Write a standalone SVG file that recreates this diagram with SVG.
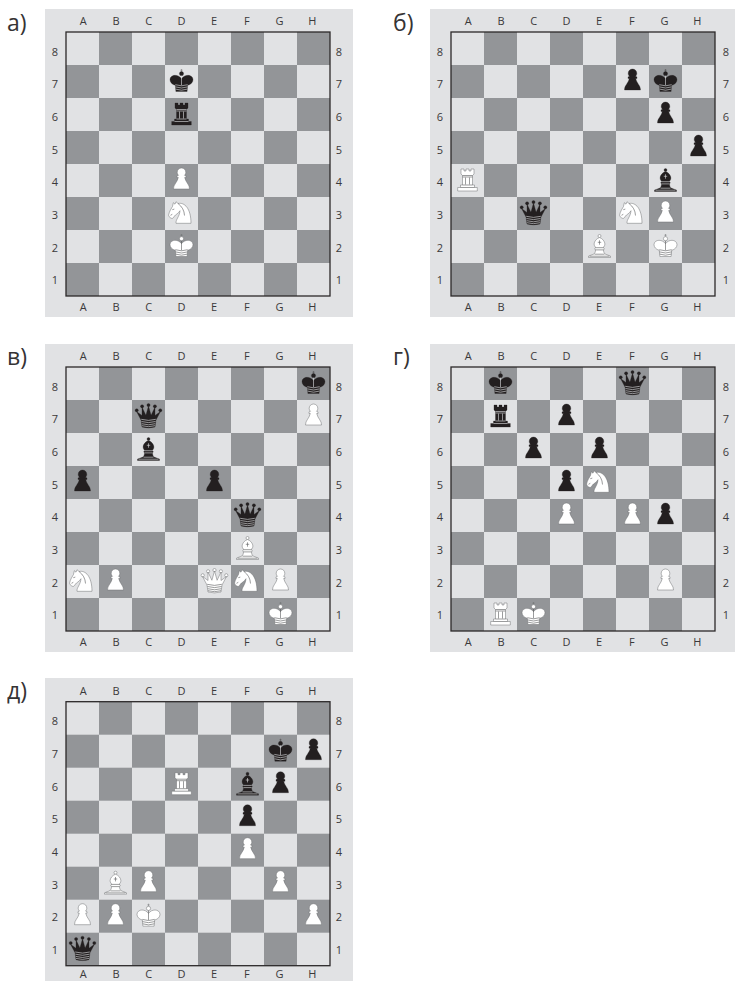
<svg xmlns="http://www.w3.org/2000/svg" width="735" height="981" viewBox="0 0 735 981">
<style>
.bg{fill:#e1e2e4}
.frame{fill:none;stroke:#2b2829;stroke-width:1.3}
.l{font-family:"Open Sans","Noto Sans",sans-serif;font-size:11px;fill:#3a3839;text-anchor:middle;opacity:.99}
.t{font-family:"Open Sans","Noto Sans",sans-serif;font-size:23px;fill:#333132;opacity:.99}
.ln{fill:none;stroke:currentColor;stroke-width:.6}
.w{fill:#fff;stroke:#6d6e71;stroke-width:.5;color:#58595b}
.b{fill:#231f20;stroke:#231f20;stroke-width:.3;color:#e1e2e4}
</style>
<defs>
<pattern id="chk" width="66" height="66" patternUnits="userSpaceOnUse"><rect x="33" width="33" height="33" fill="#939598"/><rect y="33" width="33" height="33" fill="#939598"/></pattern>
<g id="P"><path d="M-8,8.5C-8.2,4-4.5,2.5-3.2,-3L-4.5,-3L-4.5,-4.6L-3,-5.2C-4,-6-4.3,-7.2-4.3,-8.2C-4.3,-10.6-2.4,-12.5,0,-12.5C2.4,-12.5,4.3,-10.6,4.3,-8.2C4.3,-7.2,4,-6,3,-5.2L4.5,-4.6L4.5,-3L3.2,-3C4.5,2.5,8.2,4,8,8.5Z"/></g>
<g id="R"><path d="M-6.5,-11.5L-3.5,-11.5L-3.5,-9.5L-1.5,-9.5L-1.5,-11.5L1.5,-11.5L1.5,-9.5L3.5,-9.5L3.5,-11.5L6.5,-11.5L6.5,-6.5L5,-5L5,4.5L7,4.5L7,7L9.8,7L9.8,10.5L-9.8,10.5L-9.8,7L-7,7L-7,4.5L-5,4.5L-5,-5L-6.5,-6.5Z"/><path class="ln" d="M-5,-5H5M-5,-3.5H5M-5,4.5H5M-7,7H7M-2,-3V4M2,-3V4"/></g>
<g id="N"><path d="M-8.2,-10.8L-6.5,-9.3L-5.5,-11.8L-3.5,-10C3,-11.5,9.5,-5,9.5,9.8L-5.5,9.8C-6,6-2,3.5-1.5,-2.8C-3.5,0.5-6,1-7,2.5C-8,4.5-9,5.2-10,4.8C-12,4-13.2,2.5-12.8,1.2C-12.4,-2-9.5,-6-9,-7Z"/><path class="ln" d="M-9.2,-3.8L-7.2,-4.4M-3.5,-10C0.5,-7,2.8,-3,3,2M-11,1.8L-9.2,0.8"/></g>
<g id="K"><path d="M0,-12.5V-9.5M-1.2,-11.3H1.2" fill="none"/><circle cx="0" cy="-7.8" r="2.1"/><path d="M-5.6,10L-6.2,3.8C-9.5,3-11.5,0.6-11.5,-1.8C-11.5,-4.6-9,-6.2-6.5,-6.2C-4,-6.2-1.5,-5,0,-2.8C1.5,-5,4,-6.2,6.5,-6.2C9,-6.2,11.5,-4.6,11.5,-1.8C11.5,0.6,9.5,3,6.2,3.8L5.6,10Z"/><path class="ln" d="M-6.2,3.2Q0,5.4,6.2,3.2M-6,5.4Q0,7.6,6,5.4M-5.8,7.6Q0,9.8,5.8,7.6M0,-5.7V3.8"/></g>
<g id="Q"><circle cx="-11.8" cy="-6.2" r="1.6"/><circle cx="-6.4" cy="-10.2" r="1.6"/><circle cx="0" cy="-11.4" r="1.6"/><circle cx="6.4" cy="-10.2" r="1.6"/><circle cx="11.8" cy="-6.2" r="1.6"/><path d="M-12,-5L-6.5,-1L-6.5,-9.5L-2.6,-1.2L0,-10.5L2.6,-1.2L6.5,-9.5L6.5,-1L12,-5L7.5,3.5L6.5,10.5Q0,12.3,-6.5,10.5L-7.5,3.5Z"/><path class="ln" d="M-7.3,2.8Q0,5,7.3,2.8M-7,5Q0,7.2,7,5M-6.7,7.2Q0,9.4,6.7,7.2M-6.5,9.2Q0,11.2,6.5,9.2"/></g>
<g id="B"><circle cx="0" cy="-10.5" r="1.5"/><path d="M0,-9C3,-8,5.4,-5,5.4,-2.5C5.4,-0.7,4.2,0.6,3.6,1L4.8,2L4,3.5C4,5,4.5,6.5,5.5,7.5L11,9.6L11,11L-11,11L-11,9.6L-5.5,7.5C-4.5,6.5-4,5-4,3.5L-4.8,2L-3.6,1C-4.2,0.6-5.4,-0.7-5.4,-2.5C-5.4,-5-3,-8,0,-9Z"/><path class="ln" d="M0,-6.2V-1.8M-1.7,-4.2H1.7M-4,1.2H4M-4,3.4H4M-5,7.7H5M-10,9.7H10"/></g>
</defs>
<rect class="bg" x="45" y="9" width="308" height="308"/>
<rect class="bg" x="430" y="9" width="305" height="308"/>
<rect class="bg" x="45" y="344" width="308" height="308"/>
<rect class="bg" x="430" y="344" width="305" height="308"/>
<rect class="bg" x="45" y="678" width="308" height="303"/>
<text class="t" x="7" y="31">а)</text>
<text class="t" x="393" y="31">б)</text>
<text class="t" x="7" y="365">в)</text>
<text class="t" x="393" y="365">г)</text>
<text class="t" x="7" y="699">д)</text>

<g id="board-a" transform="translate(66,32)">
<rect fill="url(#chk)" width="264" height="264"/><rect class="frame" width="264" height="264"/>
<g>
<text class="l" x="17.3" y="-7">A</text><text class="l" x="50" y="-7">B</text><text class="l" x="82.7" y="-7">C</text><text class="l" x="115.4" y="-7">D</text><text class="l" x="148.1" y="-7">E</text><text class="l" x="180.8" y="-7">F</text><text class="l" x="213.5" y="-7">G</text><text class="l" x="246.2" y="-7">H</text>
<text class="l" x="17.3" y="279">A</text><text class="l" x="50" y="279">B</text><text class="l" x="82.7" y="279">C</text><text class="l" x="115.4" y="279">D</text><text class="l" x="148.1" y="279">E</text><text class="l" x="180.8" y="279">F</text><text class="l" x="213.5" y="279">G</text><text class="l" x="246.2" y="279">H</text>
<text class="l" x="-11" y="23.5">8</text><text class="l" x="-11" y="56.2">7</text><text class="l" x="-11" y="88.9">6</text><text class="l" x="-11" y="121.6">5</text><text class="l" x="-11" y="154.3">4</text><text class="l" x="-11" y="187">3</text><text class="l" x="-11" y="219.7">2</text><text class="l" x="-11" y="252.4">1</text>
<text class="l" x="273" y="23.5">8</text><text class="l" x="273" y="56.2">7</text><text class="l" x="273" y="88.9">6</text><text class="l" x="273" y="121.6">5</text><text class="l" x="273" y="154.3">4</text><text class="l" x="273" y="187">3</text><text class="l" x="273" y="219.7">2</text><text class="l" x="273" y="252.4">1</text>
</g>
<use href="#K" class="b" x="115.5" y="49.5"/><use href="#R" class="b" x="115.5" y="82.5"/>
<use href="#P" class="w" x="115.5" y="148.5"/><use href="#N" class="w" x="115.5" y="181.5"/><use href="#K" class="w" x="115.5" y="214.5"/>
</g>

<g id="board-b" transform="translate(451,32)">
<rect fill="url(#chk)" width="264" height="264"/><rect class="frame" width="264" height="264"/>
<g>
<text class="l" x="17.3" y="-7">A</text><text class="l" x="50" y="-7">B</text><text class="l" x="82.7" y="-7">C</text><text class="l" x="115.4" y="-7">D</text><text class="l" x="148.1" y="-7">E</text><text class="l" x="180.8" y="-7">F</text><text class="l" x="213.5" y="-7">G</text><text class="l" x="246.2" y="-7">H</text>
<text class="l" x="17.3" y="279">A</text><text class="l" x="50" y="279">B</text><text class="l" x="82.7" y="279">C</text><text class="l" x="115.4" y="279">D</text><text class="l" x="148.1" y="279">E</text><text class="l" x="180.8" y="279">F</text><text class="l" x="213.5" y="279">G</text><text class="l" x="246.2" y="279">H</text>
<text class="l" x="-11" y="23.5">8</text><text class="l" x="-11" y="56.2">7</text><text class="l" x="-11" y="88.9">6</text><text class="l" x="-11" y="121.6">5</text><text class="l" x="-11" y="154.3">4</text><text class="l" x="-11" y="187">3</text><text class="l" x="-11" y="219.7">2</text><text class="l" x="-11" y="252.4">1</text>
<text class="l" x="275" y="23.5">8</text><text class="l" x="275" y="56.2">7</text><text class="l" x="275" y="88.9">6</text><text class="l" x="275" y="121.6">5</text><text class="l" x="275" y="154.3">4</text><text class="l" x="275" y="187">3</text><text class="l" x="275" y="219.7">2</text><text class="l" x="275" y="252.4">1</text>
</g>
<use href="#P" class="b" x="181.5" y="49.5"/><use href="#K" class="b" x="214.5" y="49.5"/><use href="#P" class="b" x="214.5" y="82.5"/><use href="#P" class="b" x="247.5" y="115.5"/><use href="#B" class="b" x="214.5" y="148.5"/><use href="#Q" class="b" x="82.5" y="181.5"/>
<use href="#R" class="w" x="16.5" y="148.5"/><use href="#N" class="w" x="181.5" y="181.5"/><use href="#P" class="w" x="214.5" y="181.5"/><use href="#B" class="w" x="148.5" y="214.5"/><use href="#K" class="w" x="214.5" y="214.5"/>
</g>

<g id="board-c" transform="translate(66,367)">
<rect fill="url(#chk)" width="264" height="264"/><rect class="frame" width="264" height="264"/>
<g>
<text class="l" x="17.3" y="-7">A</text><text class="l" x="50" y="-7">B</text><text class="l" x="82.7" y="-7">C</text><text class="l" x="115.4" y="-7">D</text><text class="l" x="148.1" y="-7">E</text><text class="l" x="180.8" y="-7">F</text><text class="l" x="213.5" y="-7">G</text><text class="l" x="246.2" y="-7">H</text>
<text class="l" x="17.3" y="279">A</text><text class="l" x="50" y="279">B</text><text class="l" x="82.7" y="279">C</text><text class="l" x="115.4" y="279">D</text><text class="l" x="148.1" y="279">E</text><text class="l" x="180.8" y="279">F</text><text class="l" x="213.5" y="279">G</text><text class="l" x="246.2" y="279">H</text>
<text class="l" x="-11" y="23.5">8</text><text class="l" x="-11" y="56.2">7</text><text class="l" x="-11" y="88.9">6</text><text class="l" x="-11" y="121.6">5</text><text class="l" x="-11" y="154.3">4</text><text class="l" x="-11" y="187">3</text><text class="l" x="-11" y="219.7">2</text><text class="l" x="-11" y="252.4">1</text>
<text class="l" x="273" y="23.5">8</text><text class="l" x="273" y="56.2">7</text><text class="l" x="273" y="88.9">6</text><text class="l" x="273" y="121.6">5</text><text class="l" x="273" y="154.3">4</text><text class="l" x="273" y="187">3</text><text class="l" x="273" y="219.7">2</text><text class="l" x="273" y="252.4">1</text>
</g>
<use href="#K" class="b" x="247.5" y="16.5"/><use href="#Q" class="b" x="82.5" y="49.5"/><use href="#B" class="b" x="82.5" y="82.5"/><use href="#P" class="b" x="16.5" y="115.5"/><use href="#P" class="b" x="148.5" y="115.5"/><use href="#Q" class="b" x="181.5" y="148.5"/>
<use href="#P" class="w" x="247.5" y="49.5"/><use href="#B" class="w" x="181.5" y="181.5"/><use href="#N" class="w" x="16.5" y="214.5"/><use href="#P" class="w" x="49.5" y="214.5"/><use href="#Q" class="w" x="148.5" y="214.5"/><use href="#N" class="w" x="181.5" y="214.5"/><use href="#P" class="w" x="214.5" y="214.5"/><use href="#K" class="w" x="214.5" y="247.5"/>
</g>

<g id="board-d" transform="translate(451,367)">
<rect fill="url(#chk)" width="264" height="264"/><rect class="frame" width="264" height="264"/>
<g>
<text class="l" x="17.3" y="-7">A</text><text class="l" x="50" y="-7">B</text><text class="l" x="82.7" y="-7">C</text><text class="l" x="115.4" y="-7">D</text><text class="l" x="148.1" y="-7">E</text><text class="l" x="180.8" y="-7">F</text><text class="l" x="213.5" y="-7">G</text><text class="l" x="246.2" y="-7">H</text>
<text class="l" x="17.3" y="279">A</text><text class="l" x="50" y="279">B</text><text class="l" x="82.7" y="279">C</text><text class="l" x="115.4" y="279">D</text><text class="l" x="148.1" y="279">E</text><text class="l" x="180.8" y="279">F</text><text class="l" x="213.5" y="279">G</text><text class="l" x="246.2" y="279">H</text>
<text class="l" x="-11" y="23.5">8</text><text class="l" x="-11" y="56.2">7</text><text class="l" x="-11" y="88.9">6</text><text class="l" x="-11" y="121.6">5</text><text class="l" x="-11" y="154.3">4</text><text class="l" x="-11" y="187">3</text><text class="l" x="-11" y="219.7">2</text><text class="l" x="-11" y="252.4">1</text>
<text class="l" x="275" y="23.5">8</text><text class="l" x="275" y="56.2">7</text><text class="l" x="275" y="88.9">6</text><text class="l" x="275" y="121.6">5</text><text class="l" x="275" y="154.3">4</text><text class="l" x="275" y="187">3</text><text class="l" x="275" y="219.7">2</text><text class="l" x="275" y="252.4">1</text>
</g>
<use href="#K" class="b" x="49.5" y="16.5"/><use href="#Q" class="b" x="181.5" y="16.5"/><use href="#R" class="b" x="49.5" y="49.5"/><use href="#P" class="b" x="115.5" y="49.5"/><use href="#P" class="b" x="82.5" y="82.5"/><use href="#P" class="b" x="148.5" y="82.5"/><use href="#P" class="b" x="115.5" y="115.5"/><use href="#P" class="b" x="214.5" y="148.5"/>
<use href="#N" class="w" x="148.5" y="115.5"/><use href="#P" class="w" x="115.5" y="148.5"/><use href="#P" class="w" x="181.5" y="148.5"/><use href="#P" class="w" x="214.5" y="214.5"/><use href="#R" class="w" x="49.5" y="247.5"/><use href="#K" class="w" x="82.5" y="247.5"/>
</g>

<g id="board-e" transform="translate(66,701.7)">
<rect fill="url(#chk)" width="264" height="264"/><rect class="frame" width="264" height="264"/>
<g>
<text class="l" x="17.3" y="-7">A</text><text class="l" x="50" y="-7">B</text><text class="l" x="82.7" y="-7">C</text><text class="l" x="115.4" y="-7">D</text><text class="l" x="148.1" y="-7">E</text><text class="l" x="180.8" y="-7">F</text><text class="l" x="213.5" y="-7">G</text><text class="l" x="246.2" y="-7">H</text>
<text class="l" x="17.3" y="276">A</text><text class="l" x="50" y="276">B</text><text class="l" x="82.7" y="276">C</text><text class="l" x="115.4" y="276">D</text><text class="l" x="148.1" y="276">E</text><text class="l" x="180.8" y="276">F</text><text class="l" x="213.5" y="276">G</text><text class="l" x="246.2" y="276">H</text>
<text class="l" x="-11" y="23.5">8</text><text class="l" x="-11" y="56.2">7</text><text class="l" x="-11" y="88.9">6</text><text class="l" x="-11" y="121.6">5</text><text class="l" x="-11" y="154.3">4</text><text class="l" x="-11" y="187">3</text><text class="l" x="-11" y="219.7">2</text><text class="l" x="-11" y="252.4">1</text>
<text class="l" x="273" y="23.5">8</text><text class="l" x="273" y="56.2">7</text><text class="l" x="273" y="88.9">6</text><text class="l" x="273" y="121.6">5</text><text class="l" x="273" y="154.3">4</text><text class="l" x="273" y="187">3</text><text class="l" x="273" y="219.7">2</text><text class="l" x="273" y="252.4">1</text>
</g>
<use href="#K" class="b" x="214.5" y="49.5"/><use href="#P" class="b" x="247.5" y="49.5"/><use href="#B" class="b" x="181.5" y="82.5"/><use href="#P" class="b" x="214.5" y="82.5"/><use href="#P" class="b" x="181.5" y="115.5"/><use href="#Q" class="b" x="16.5" y="247.5"/>
<use href="#R" class="w" x="115.5" y="82.5"/><use href="#P" class="w" x="181.5" y="148.5"/><use href="#B" class="w" x="49.5" y="181.5"/><use href="#P" class="w" x="82.5" y="181.5"/><use href="#P" class="w" x="214.5" y="181.5"/><use href="#P" class="w" x="16.5" y="214.5"/><use href="#P" class="w" x="49.5" y="214.5"/><use href="#K" class="w" x="82.5" y="214.5"/><use href="#P" class="w" x="247.5" y="214.5"/>
</g>
</svg>
